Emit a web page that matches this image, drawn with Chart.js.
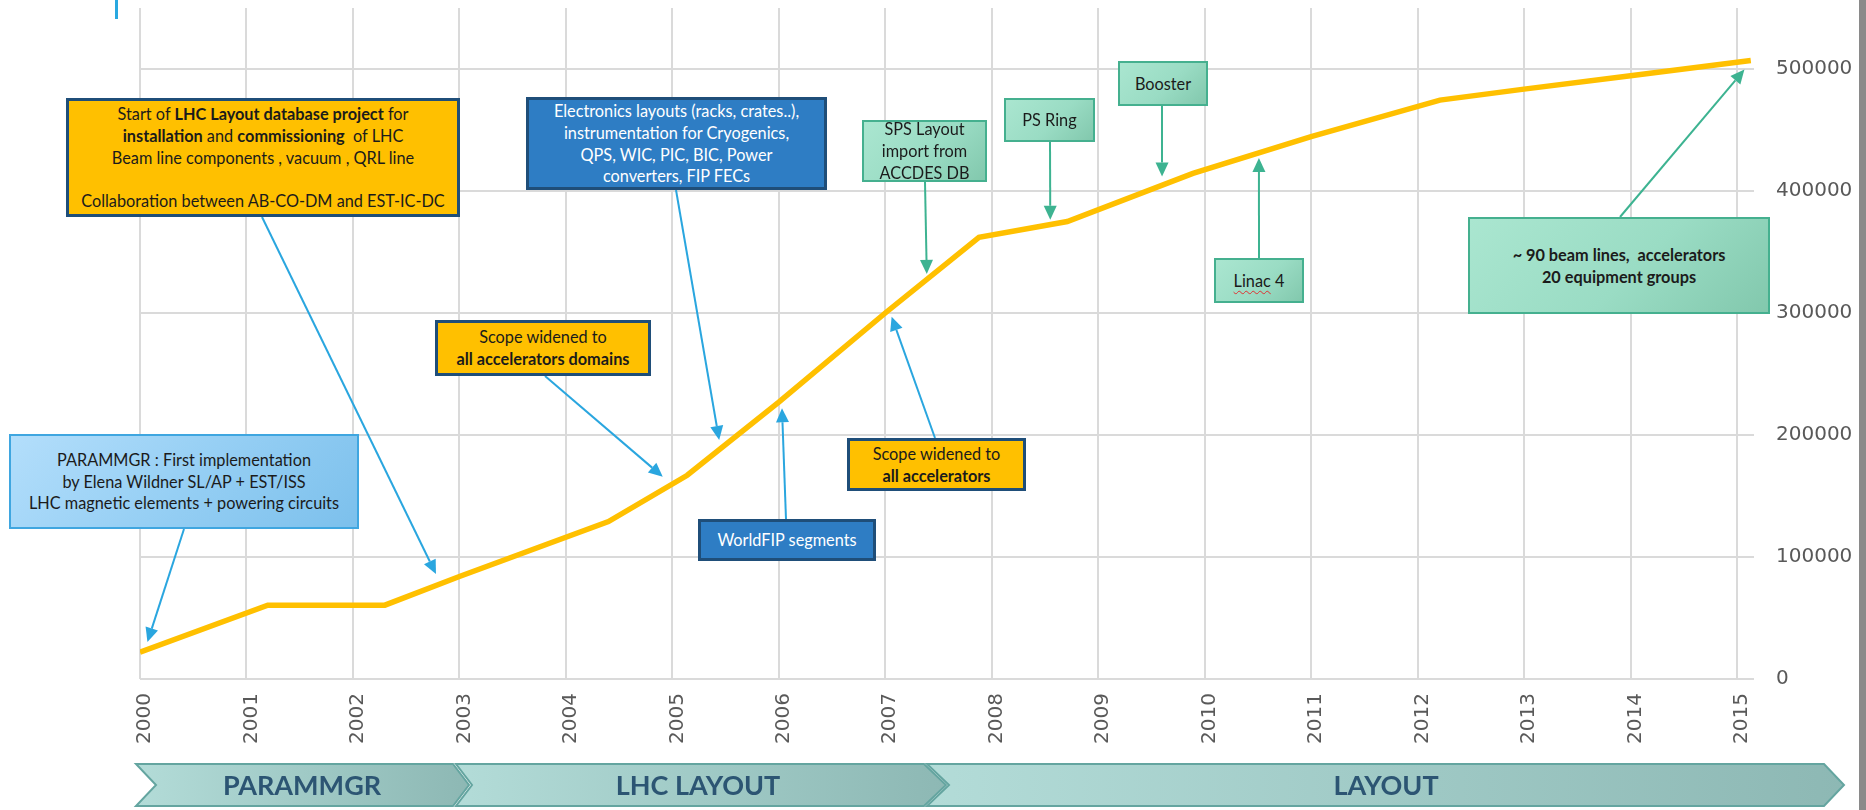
<!DOCTYPE html>
<html>
<head>
<meta charset="utf-8">
<script src="https://cdn.jsdelivr.net/npm/chart.js@4.4.1/dist/chart.umd.min.js"></script>
<style>
  body { margin: 0; background: #fff; overflow: hidden; }
  .wrap { position: relative; width: 1866px; height: 810px; }
  .box {
    position: absolute; box-sizing: border-box;
    display: flex; flex-direction: column; justify-content: center; align-items: center;
    text-align: center; font-family: Lato, "Open Sans", sans-serif;
    font-size: 16.3px; line-height: 21.7px; white-space: nowrap;
  }
  .box b { font-weight: 700; }
  .orange { background: #ffc000; border: 3px solid #1f4e79; color: #1b1b1b; }
  .blue { background: #2e7dc4; border: 3px solid #1f4e79; color: #fff; }
  .green { background: linear-gradient(135deg, #aae6d0 0%, #9adcc4 55%, #82c8ad 100%); border: 2px solid #45b08f; color: #1b1b1b; }
  .lblue { background: linear-gradient(135deg, #b3defb 0%, #96cff4 50%, #7cc0ec 100%); border: 2px solid #3fa6e0; color: #1b1b1b; }
  .wavy { text-decoration: underline wavy #e03030; text-decoration-thickness: 1px; text-underline-offset: 3px; }
  .edge { position: absolute; left: 1859px; top: 0; width: 7px; height: 810px; background: #8a8a8a; }
  .tick { position: absolute; left: 115px; top: 0; width: 2.5px; height: 19px; background: #29a8e0; }
  svg.band { position: absolute; left: 0; top: 0; }
</style>
</head>
<body>
<div class="wrap">
  <canvas id="chart"></canvas>

  <div class="tick"></div>
  <div class="edge"></div>

  <div class="box orange" style="left:66px;top:98px;width:394px;height:119px;">
    <div>Start of <b>LHC Layout database project</b> for</div>
    <div><b>installation</b> and <b>commissioning</b>&nbsp; of LHC</div>
    <div>Beam line components , vacuum , QRL line</div>
    <div>&nbsp;</div>
    <div>Collaboration between AB-CO-DM and EST-IC-DC</div>
  </div>

  <div class="box blue" style="left:526px;top:97px;width:301px;height:93px;">
    <div>Electronics layouts (racks, crates..),</div>
    <div>instrumentation for Cryogenics,</div>
    <div>QPS, WIC, PIC, BIC, Power</div>
    <div>converters, FIP FECs</div>
  </div>

  <div class="box green" style="left:862px;top:120px;width:125px;height:62px;">
    <div>SPS Layout</div>
    <div>import from</div>
    <div>ACCDES DB</div>
  </div>

  <div class="box green" style="left:1004px;top:98px;width:91px;height:44px;">PS Ring</div>
  <div class="box green" style="left:1118px;top:61px;width:90px;height:45px;">Booster</div>
  <div class="box green" style="left:1214px;top:258px;width:90px;height:45px;"><div><span class="wavy">Linac</span> 4</div></div>

  <div class="box green" style="left:1468px;top:217px;width:302px;height:97px;">
    <div><b>~ 90 beam lines,&nbsp; accelerators</b></div>
    <div><b>20 equipment groups</b></div>
  </div>

  <div class="box orange" style="left:435px;top:320px;width:216px;height:56px;">
    <div>Scope widened to</div>
    <div><b>all accelerators domains</b></div>
  </div>

  <div class="box lblue" style="left:9px;top:434px;width:350px;height:95px;">
    <div>PARAMMGR : First implementation</div>
    <div>by Elena Wildner SL/AP + EST/ISS</div>
    <div>LHC magnetic elements + powering circuits</div>
  </div>

  <div class="box blue" style="left:698px;top:519px;width:178px;height:42px;">WorldFIP segments</div>

  <div class="box orange" style="left:847px;top:438px;width:179px;height:53px;">
    <div>Scope widened to</div>
    <div><b>all accelerators</b></div>
  </div>

  <svg class="band" width="1866" height="810">
    <defs>
      <linearGradient id="chev" x1="0" x2="1" y1="0" y2="0">
        <stop offset="0" stop-color="#b3dcd8"/>
        <stop offset="1" stop-color="#8db8b4"/>
      </linearGradient>
    </defs>
    <g stroke="#64a5a0" stroke-width="2" fill="url(#chev)">
      <polygon points="136,764 453,764 469,785 453,806 136,806 156,785"/>
      <polygon points="456,764 924,764 946,785 924,806 456,806 472,785"/>
      <polygon points="927,764 1824,764 1844,785 1824,806 927,806 949,785"/>
    </g>
    <g font-family="Lato, sans-serif" font-weight="700" font-size="27" fill="#2c5573" text-anchor="middle">
      <text x="302" y="795">PARAMMGR</text>
      <text x="698" y="795">LHC LAYOUT</text>
      <text x="1386" y="795">LAYOUT</text>
    </g>
  </svg>
</div>

<script>
// line vertices (year, number of entries)
const years = [2000.0, 2001.2, 2002.3, 2003.0, 2004.4, 2005.14, 2006.0, 2007.0, 2007.88, 2008.71, 2009.89, 2011.0, 2012.21, 2013.0, 2014.0, 2015.13];
const entries = [22000, 60500, 60500, 84000, 129000, 167000, 227000, 300000, 362000, 375000, 414500, 444500, 474500, 483500, 494500, 507000];

const xTickYears = [2000, 2001, 2002, 2003, 2004, 2005, 2006, 2007, 2008, 2009, 2010, 2011, 2012, 2013, 2014, 2015];
const yTickValues = [0, 100000, 200000, 300000, 400000, 500000];

// arrows: tail in page pixels (box edge), tip in data units
const arrowTails = [[184, 529], [262, 217], [545, 376], [676, 190], [786, 519], [935, 438], [925, 182], [1050, 142], [1162, 106], [1259, 258], [1620, 217]];
const arrowTips = [[2000.07, 30400], [2002.78, 86000], [2004.91, 165800], [2005.44, 195900], [2006.03, 221900], [2007.06, 297000], [2007.39, 332000], [2008.55, 376400], [2009.60, 411900], [2010.51, 427000], [2015.07, 499500]];
const arrowColors = ["#2aa6df", "#2aa6df", "#2aa6df", "#2aa6df", "#2aa6df", "#2aa6df", "#3db391", "#3db391", "#3db391", "#3db391", "#3db391"];

const arrowPlugin = {
  id: "arrows",
  afterDatasetsDraw(chart) {
    const { ctx, scales } = chart;
    arrowTails.forEach((tail, i) => {
      const tx = scales.x.getPixelForValue(arrowTips[i][0]);
      const ty = scales.y.getPixelForValue(arrowTips[i][1]);
      const ang = Math.atan2(ty - tail[1], tx - tail[0]);
      const len = 14, half = 6.5;
      const bx = tx - len * Math.cos(ang), by = ty - len * Math.sin(ang);
      ctx.save();
      ctx.strokeStyle = arrowColors[i];
      ctx.fillStyle = arrowColors[i];
      ctx.lineWidth = 2;
      ctx.beginPath();
      ctx.moveTo(tail[0], tail[1]);
      ctx.lineTo(bx, by);
      ctx.stroke();
      ctx.beginPath();
      ctx.moveTo(tx, ty);
      ctx.lineTo(bx + half * Math.sin(ang), by - half * Math.cos(ang));
      ctx.lineTo(bx - half * Math.sin(ang), by + half * Math.cos(ang));
      ctx.closePath();
      ctx.fill();
      ctx.restore();
    });
  }
};

const tickFont = { family: "'DejaVu Sans', sans-serif", size: 20 };

new Chart(document.getElementById("chart"), {
  type: "line",
  data: {
    datasets: [{
      data: years.map((yr, i) => ({ x: yr, y: entries[i] })),
      borderColor: "#ffc000",
      borderWidth: 5.5,
      pointRadius: 0,
      tension: 0,
      fill: false
    }]
  },
  options: {
    responsive: true,
    maintainAspectRatio: false,
    animation: false,
    layout: { padding: { left: 140, top: 8, right: 0, bottom: 0 } },
    plugins: { legend: { display: false }, tooltip: { enabled: false } },
    scales: {
      x: {
        type: "linear",
        min: 2000,
        max: 2015.16,
        afterBuildTicks: (scale) => { scale.ticks = xTickYears.map((v) => ({ value: v })); },
        afterFit: (scale) => { scale.height = 131; scale.paddingLeft = 0; scale.paddingRight = 0; },
        grid: { color: "#dadada", lineWidth: 2, drawTicks: false },
        border: { display: false },
        ticks: {
          minRotation: 90, maxRotation: 90, padding: 14, labelOffset: 5,
          color: "#595959", font: tickFont,
          callback: (v) => String(v)
        }
      },
      y: {
        position: "right",
        min: 0,
        max: 550000,
        afterBuildTicks: (scale) => { scale.ticks = yTickValues.map((v) => ({ value: v })); },
        afterFit: (scale) => { scale.width = 112; scale.paddingTop = 0; scale.paddingBottom = 0; },
        grid: { color: "#dadada", lineWidth: 2, drawTicks: false },
        border: { display: false },
        ticks: {
          padding: 22, color: "#595959", font: tickFont,
          callback: (v) => String(v)
        }
      }
    }
  },
  plugins: [arrowPlugin]
});
</script>
</body>
</html>
